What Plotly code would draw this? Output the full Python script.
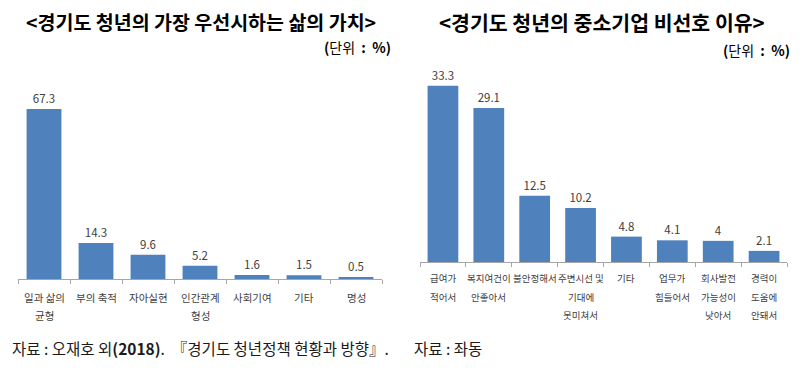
import plotly.graph_objects as go

# Left chart data
left_title = "<경기도 청년의 가장 우선시하는 삶의 가치>"
left_cats = ["일과 삶의<br>균형", "부의 축적", "자아실현", "인간관계<br>형성", "사회기여", "기타", "명성"]
left_vals = [67.3, 14.3, 9.6, 5.2, 1.6, 1.5, 0.5]

# Right chart data
right_title = "<경기도 청년의 중소기업 비선호 이유>"
right_cats = ["급여가<br>적어서", "복지여건이<br>안좋아서", "불안정해서", "주변시선 및<br>기대에<br>못미쳐서",
              "기타", "업무가<br>힘들어서", "회사발전<br>가능성이<br>낮아서", "경력이<br>도움에<br>안돼서"]
right_vals = [33.3, 29.1, 12.5, 10.2, 4.8, 4.1, 4, 2.1]

unit_text = "<b>(</b>단위  <b>:</b>  <b>%)</b>"
source_left = "자료 : 오재호 외<b>(2018)</b>.  『경기도 청년정책 현황과 방향』."
source_right = "자료 : 좌동"

W, H = 809, 372
OFF = 8  # page body margin
FONT = "Noto Sans CJK KR"
BAR = "#4F81BD"

def px(x):
    return (x - OFF) / W

def py(y):
    return 1 - (y - OFF) / H

fig = go.Figure()
fig.add_trace(go.Bar(x=left_cats, y=left_vals, text=[f"{v:g}" for v in left_vals],
                     textposition="outside", cliponaxis=False,
                     textfont=dict(size=11.5, color="#404040", family=FONT),
                     marker=dict(color=BAR, line=dict(width=0)), xaxis="x", yaxis="y",
                     hoverinfo="skip", showlegend=False))
fig.add_trace(go.Bar(x=right_cats, y=right_vals, text=[f"{v:g}" for v in right_vals],
                     textposition="outside", cliponaxis=False,
                     textfont=dict(size=11.5, color="#404040", family=FONT),
                     marker=dict(color=BAR, line=dict(width=0)), xaxis="x2", yaxis="y2",
                     hoverinfo="skip", showlegend=False))

axis_common = dict(showline=True, linecolor="#A6A6A6", linewidth=1, ticks="outside",
                   tickson="boundaries", ticklen=4, tickcolor="#A6A6A6",
                   showticklabels=False, showgrid=False,
                   zeroline=False, fixedrange=True)

fig.update_layout(
    width=W, height=H,
    margin=dict(l=0, r=0, t=0, b=0),
    paper_bgcolor="white", plot_bgcolor="white",
    font=dict(family=FONT),
    bargap=0.33,
    xaxis=dict(domain=[px(18), px(382)], anchor="y", **axis_common),
    yaxis=dict(domain=[py(279), py(100)], range=[0, 67.3 * 179 / 170], visible=False, fixedrange=True),
    xaxis2=dict(domain=[px(420), px(787)], anchor="y2", **axis_common),
    yaxis2=dict(domain=[py(262), py(80)], range=[0, 182 / 5.29], visible=False, fixedrange=True),
)

ann = [
    dict(text=f"<b>{left_title.replace('<', '&lt;').replace('>', '&gt;')}</b>", x=px(201), y=py(22),
         font=dict(size=19.5, color="black")),
    dict(text=f"<b>{right_title.replace('<', '&lt;').replace('>', '&gt;')}</b>", x=px(602), y=py(22),
         font=dict(size=20.5, color="black")),
    dict(text=unit_text, x=px(393), y=py(47), xanchor="right", font=dict(size=14, color="black")),
    dict(text=unit_text, x=px(792), y=py(50), xanchor="right", font=dict(size=14, color="black")),
    dict(text=source_left, x=px(10), y=py(348), xanchor="left", font=dict(size=15.5, color="#1a1a1a")),
    dict(text=source_right, x=px(412), y=py(348), xanchor="left", font=dict(size=15.5, color="#1a1a1a")),
]
for a in ann:
    a.setdefault("xanchor", "center")
    fig.add_annotation(xref="paper", yref="paper", showarrow=False, yanchor="middle",
                       font_family=FONT, **a)

# category labels, one line per annotation for wider line spacing
def add_cat_labels(cats, xref, first_y, size, step=18.5):
    for c in cats:
        for i, line in enumerate(c.split("<br>")):
            fig.add_annotation(x=c, xref=xref, yref="paper", y=py(first_y + i * step),
                               text=line, showarrow=False, xanchor="center", yanchor="middle",
                               font=dict(size=size, color="#404040", family=FONT))

add_cat_labels(left_cats, "x", 297, 10.5)
add_cat_labels(right_cats, "x2", 278, 9.5)

fig.write_html("out.html")
